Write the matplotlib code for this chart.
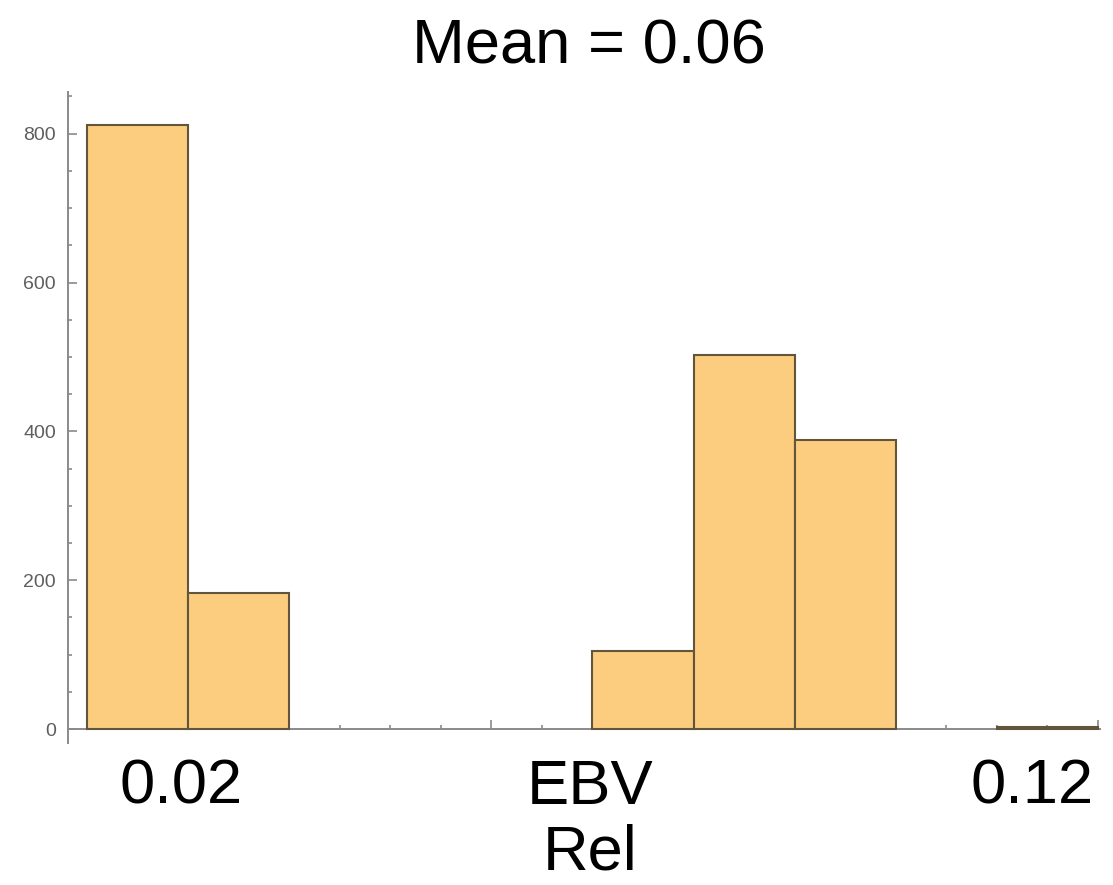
import numpy as np
import matplotlib
matplotlib.use("Agg")
import matplotlib.pyplot as plt
import matplotlib as mpl
from matplotlib.ticker import MultipleLocator, FixedLocator, NullFormatter

mpl.rcParams['font.family'] = ['Liberation Sans', 'DejaVu Sans']

# histogram data (EBV Rel), bins of width 0.01
bin_edges = [0.01, 0.02, 0.03, 0.04, 0.05, 0.06, 0.07, 0.08, 0.09, 0.10, 0.11]
counts = [812, 183, 0, 0, 0, 105, 503, 388, 0, 3]
y_ticks = [0, 200, 400, 600, 800]
title = "Mean = 0.06"
low_label = "0.02"
high_label = "0.12"
axis_label = "EBV\nRel"

bar_color = '#fccd7e'
edge_color = '#62553e'
axis_color = '#8a8a8a'


def plot_hist():
    fig = plt.figure(figsize=(11.13, 8.85), dpi=100)
    ax = fig.add_axes([67.7 / 1113, 1 - 743 / 885,
                       (1100 - 67.7) / 1113, (743 - 92) / 885])

    left = np.array(bin_edges[:-1])
    widths = np.diff(bin_edges)
    h = np.array(counts)
    keep = h > 0
    ax.bar(left[keep], h[keep], width=widths[keep], align='edge',
           color=bar_color, edgecolor=edge_color, linewidth=1.5, zorder=3)

    ax.set_xlim(0.00809, 0.1102)
    ax.set_ylim(-18.8, 856)

    for s in ['top', 'right']:
        ax.spines[s].set_visible(False)
    ax.spines['bottom'].set_position(('data', 0))
    for s in ['left', 'bottom']:
        ax.spines[s].set_color(axis_color)
        ax.spines[s].set_linewidth(1.4)

    ax.xaxis.set_major_locator(FixedLocator([0.02, 0.05, 0.08, 0.11]))
    ax.xaxis.set_minor_locator(MultipleLocator(0.005))
    ax.xaxis.set_major_formatter(NullFormatter())
    ax.yaxis.set_major_locator(FixedLocator(y_ticks))
    ax.yaxis.set_minor_locator(MultipleLocator(50))

    ax.tick_params(which='both', direction='in', color=axis_color, width=1.2)
    ax.tick_params(which='major', length=6.5)
    ax.tick_params(which='minor', length=3.2)
    ax.tick_params(axis='y', labelsize=14, labelcolor='#5e5e5e', pad=8.4)

    fig.text(588.5 / 1113, 1 - 63 / 885, title, fontsize=45.5,
             ha='center', va='baseline')
    fig.text(181.5 / 1113, 1 - 803 / 885, low_label, fontsize=45.5,
             ha='center', va='baseline')
    fig.text(1032.5 / 1113, 1 - 803 / 885, high_label, fontsize=45.5,
             ha='center', va='baseline')
    ebv, rel = axis_label.split("\n")
    fig.text(590 / 1113, 1 - 804 / 885, ebv, fontsize=45.5,
             ha='center', va='baseline')
    fig.text(590 / 1113, 1 - 870 / 885, rel, fontsize=45.5,
             ha='center', va='baseline')

    fig.savefig("out.png", dpi=100)


if __name__ == '__main__':
    plot_hist()
